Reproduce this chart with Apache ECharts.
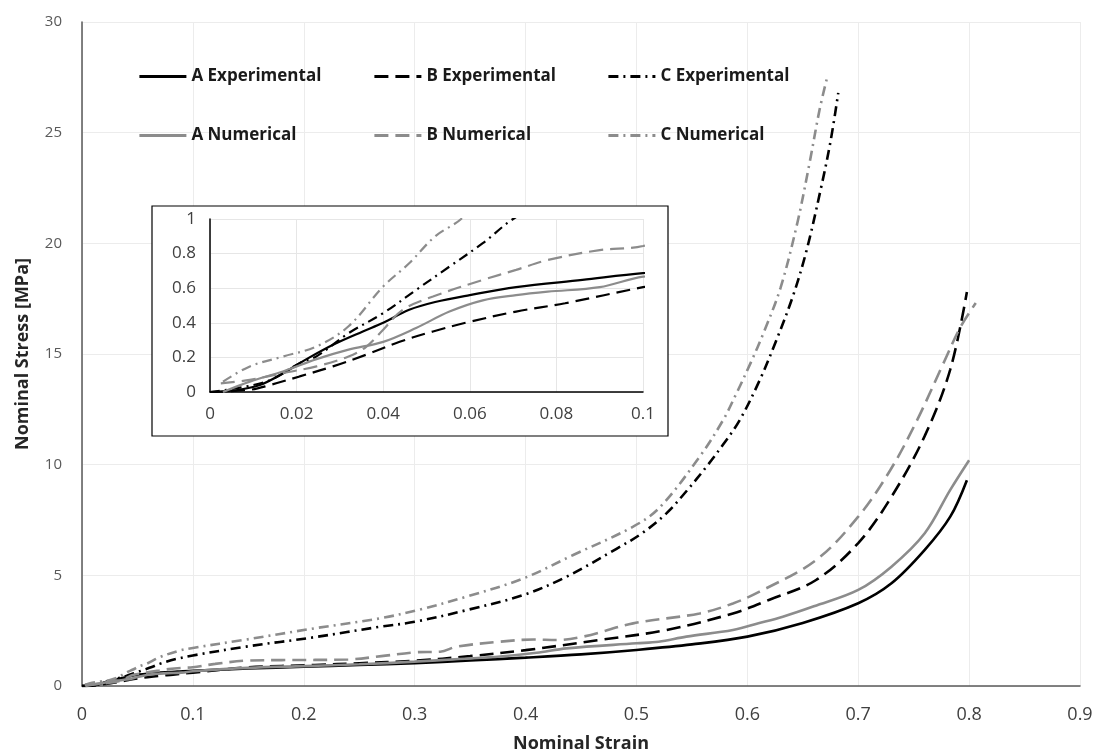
<!DOCTYPE html>
<html>
<head>
<meta charset="utf-8">
<script src="https://cdn.jsdelivr.net/npm/echarts@6/dist/echarts.min.js"></script>
<style>
  html, body { margin: 0; padding: 0; background: #fff; }
  #chart { width: 1094px; height: 753px; }
</style>
</head>
<body>
<div id="chart"></div>
<script>
// Stress–strain curves: [nominal strain, nominal stress in MPa]
const aExp = [[0,0],[0.006,0.01],[0.0115,0.04],[0.017,0.11],[0.0223,0.19],[0.029,0.28],[0.0353,0.35],[0.04,0.40],[0.046,0.475],[0.052,0.52],[0.06,0.56],[0.0707,0.606],[0.086,0.648],[0.1,0.687],[0.15,0.79],[0.2,0.87],[0.25,0.95],[0.3,1.03],[0.35,1.15],[0.4,1.28],[0.45,1.43],[0.5,1.63],[0.55,1.88],[0.6,2.23],[0.65,2.85],[0.7,3.74],[0.73,4.64],[0.76,6.15],[0.783,7.65],[0.798,9.3]];
const aNum = [[0.003,0],[0.0092,0.06],[0.017,0.12],[0.0246,0.19],[0.032,0.245],[0.04,0.29],[0.0476,0.37],[0.0553,0.465],[0.063,0.53],[0.0707,0.56],[0.078,0.58],[0.09,0.606],[0.1,0.667],[0.15,0.82],[0.2,0.9],[0.25,0.98],[0.3,1.1],[0.34,1.22],[0.377,1.33],[0.41,1.5],[0.437,1.7],[0.5,1.93],[0.52,2.0],[0.545,2.23],[0.587,2.53],[0.61,2.83],[0.632,3.13],[0.66,3.6],[0.7,4.34],[0.73,5.39],[0.76,6.9],[0.783,8.86],[0.8,10.2]];
const bExp = [[0,0],[0.0092,0.013],[0.0138,0.04],[0.0207,0.09],[0.0284,0.148],[0.036,0.215],[0.0438,0.29],[0.0515,0.35],[0.059,0.40],[0.0707,0.465],[0.082,0.513],[0.1,0.606],[0.15,0.84],[0.21,0.95],[0.25,1.03],[0.3,1.14],[0.35,1.35],[0.4,1.62],[0.467,2.08],[0.527,2.53],[0.587,3.28],[0.62,3.9],[0.662,4.79],[0.7,6.46],[0.73,8.55],[0.76,11.3],[0.783,14.3],[0.798,17.8]];
const bNum = [[0.0025,0.05],[0.0092,0.07],[0.017,0.11],[0.0246,0.148],[0.032,0.205],[0.036,0.26],[0.04,0.36],[0.0445,0.475],[0.0515,0.552],[0.063,0.648],[0.0707,0.706],[0.078,0.763],[0.09,0.82],[0.1,0.844],[0.12,1.0],[0.15,1.15],[0.18,1.17],[0.24,1.2],[0.27,1.35],[0.3,1.52],[0.323,1.55],[0.338,1.78],[0.377,2.0],[0.407,2.1],[0.428,2.08],[0.452,2.23],[0.497,2.83],[0.557,3.28],[0.587,3.73],[0.611,4.26],[0.662,5.69],[0.7,7.65],[0.729,9.76],[0.753,12.0],[0.777,14.6],[0.792,16.2],[0.806,17.3]];
const cExp = [[0,0],[0.013,0.06],[0.0207,0.167],[0.0246,0.206],[0.032,0.34],[0.04,0.456],[0.0476,0.59],[0.0553,0.725],[0.063,0.86],[0.07,1.0],[0.085,1.22],[0.1,1.38],[0.148,1.78],[0.209,2.2],[0.269,2.68],[0.3,2.9],[0.347,3.43],[0.398,4.11],[0.437,4.94],[0.482,6.2],[0.505,6.9],[0.527,7.8],[0.545,8.8],[0.563,9.9],[0.578,10.9],[0.593,12.0],[0.611,13.8],[0.626,15.6],[0.641,17.6],[0.653,19.6],[0.666,22.4],[0.675,24.6],[0.682,26.8]];
const cNum = [[0.003,0.06],[0.0092,0.148],[0.017,0.206],[0.0246,0.263],[0.032,0.38],[0.04,0.61],[0.046,0.744],[0.052,0.9],[0.058,1.0],[0.07,1.3],[0.088,1.6],[0.1,1.72],[0.148,2.1],[0.209,2.6],[0.269,3.06],[0.305,3.46],[0.347,4.04],[0.398,4.86],[0.443,5.92],[0.497,7.2],[0.521,8.07],[0.557,10.36],[0.578,12.0],[0.59,13.2],[0.603,14.6],[0.615,16.0],[0.63,18.0],[0.645,20.9],[0.656,23.6],[0.665,26.0],[0.6715,27.4]];

const seriesNames = ['A Experimental','B Experimental','C Experimental','A Numerical','B Numerical','C Numerical'];

const BLACK = '#000000';
const GREY = '#8c8c8c';
const DASH = [14, 7];
const DASHDOT = [10, 5, 2, 5];

const styles = {
  'A Experimental': { data: aExp, color: BLACK, type: 'solid' },
  'B Experimental': { data: bExp, color: BLACK, type: DASH },
  'C Experimental': { data: cExp, color: BLACK, type: DASHDOT },
  'A Numerical':    { data: aNum, color: GREY,  type: 'solid' },
  'B Numerical':    { data: bNum, color: GREY,  type: DASH },
  'C Numerical':    { data: cNum, color: GREY,  type: DASHDOT }
};

function makeSeries(name, gridIdx) {
  const s = styles[name];
  const inset = gridIdx === 1;
  return {
    name: name,
    type: 'line',
    xAxisIndex: gridIdx,
    yAxisIndex: gridIdx,
    data: s.data,
    showSymbol: false,
    symbol: 'none',
    smooth: 0.35,
    clip: true,
    z: inset ? 10 : 2,
    color: s.color,
    lineStyle: { color: s.color, width: inset ? 2.2 : 2.6, type: s.type },
    animation: false
  };
}

const series = [];
seriesNames.forEach(n => series.push(makeSeries(n, 0)));
seriesNames.forEach(n => series.push(makeSeries(n, 1)));

const legendText = { fontFamily: 'Open Sans', fontWeight: 'bold', fontSize: 17, color: '#1a1a1a' };
function legendColumn(names, left) {
  return {
    data: names, orient: 'vertical', left: left, top: 68, padding: 0,
    itemWidth: 47, itemHeight: 14, itemGap: 42,
    itemStyle: { color: 'transparent', borderColor: 'transparent', borderWidth: 0, opacity: 0 },
    lineStyle: { width: 2.8 },
    textStyle: legendText,
    selectedMode: false
  };
}

const chart = echarts.init(document.getElementById('chart'), null, { renderer: 'canvas' });
chart.setOption({
  animation: false,
  backgroundColor: '#ffffff',
  legend: [
    legendColumn(['A Experimental','A Numerical'], 138),
    legendColumn(['B Experimental','B Numerical'], 373),
    legendColumn(['C Experimental','C Numerical'], 607)
  ],
  grid: [
    { left: 82, right: 14, top: 22, bottom: 67, containLabel: false, outerBoundsMode: 'none' },
    { left: 210, right: 451, top: 219, bottom: 361, containLabel: false, outerBoundsMode: 'none' }
  ],
  xAxis: [
    {
      type: 'value', gridIndex: 0, min: 0, max: 0.9, interval: 0.1,
      name: 'Nominal Strain', nameLocation: 'middle', nameGap: 49,
      nameTextStyle: { fontFamily: 'Open Sans', fontWeight: 'bold', fontSize: 18, color: '#262626' },
      axisLine: { show: true, lineStyle: { color: '#595959', width: 1.5 } },
      axisTick: { show: false },
      axisLabel: { fontFamily: 'Liberation Sans Narrow, Open Sans, sans-serif', fontSize: 18, color: '#404040', margin: 20 },
      splitLine: { show: true, lineStyle: { color: '#ececec', width: 1 } }
    },
    {
      type: 'value', gridIndex: 1, min: 0, max: 0.1, interval: 0.02, z: 8,
      axisLine: { show: true, lineStyle: { color: '#000', width: 1.5 } },
      axisTick: { show: false },
      axisLabel: { fontFamily: 'Open Sans', fontSize: 17, color: '#404040', margin: 14 },
      splitLine: { show: true, lineStyle: { color: '#e6e6e6', width: 1 } }
    }
  ],
  yAxis: [
    {
      type: 'value', gridIndex: 0, min: 0, max: 30, interval: 5,
      name: 'Nominal Stress [MPa]', nameLocation: 'middle', nameGap: 50, nameRotate: 90,
      nameTextStyle: { fontFamily: 'Open Sans', fontWeight: 'bold', fontSize: 18, color: '#262626' },
      axisLine: { show: true, lineStyle: { color: '#595959', width: 1.5 } },
      axisTick: { show: false },
      axisLabel: { fontFamily: 'Open Sans', fontSize: 15, color: '#595959', margin: 20 },
      splitLine: { show: true, lineStyle: { color: '#ececec', width: 1 } }
    },
    {
      type: 'value', gridIndex: 1, min: 0, max: 1, interval: 0.2, z: 8,
      axisLine: { show: true, lineStyle: { color: '#000', width: 1.5 } },
      axisTick: { show: false },
      axisLabel: { fontFamily: 'Open Sans', fontSize: 17, color: '#404040', margin: 14 },
      splitLine: { show: true, lineStyle: { color: '#e6e6e6', width: 1 } }
    }
  ],
  graphic: [
    {
      type: 'rect', z: 5,
      shape: { x: 152, y: 206, width: 516, height: 230 },
      style: { fill: '#ffffff', stroke: '#000000', lineWidth: 1.2 }
    }
  ],
  series: series
});
</script>
</body>
</html>
